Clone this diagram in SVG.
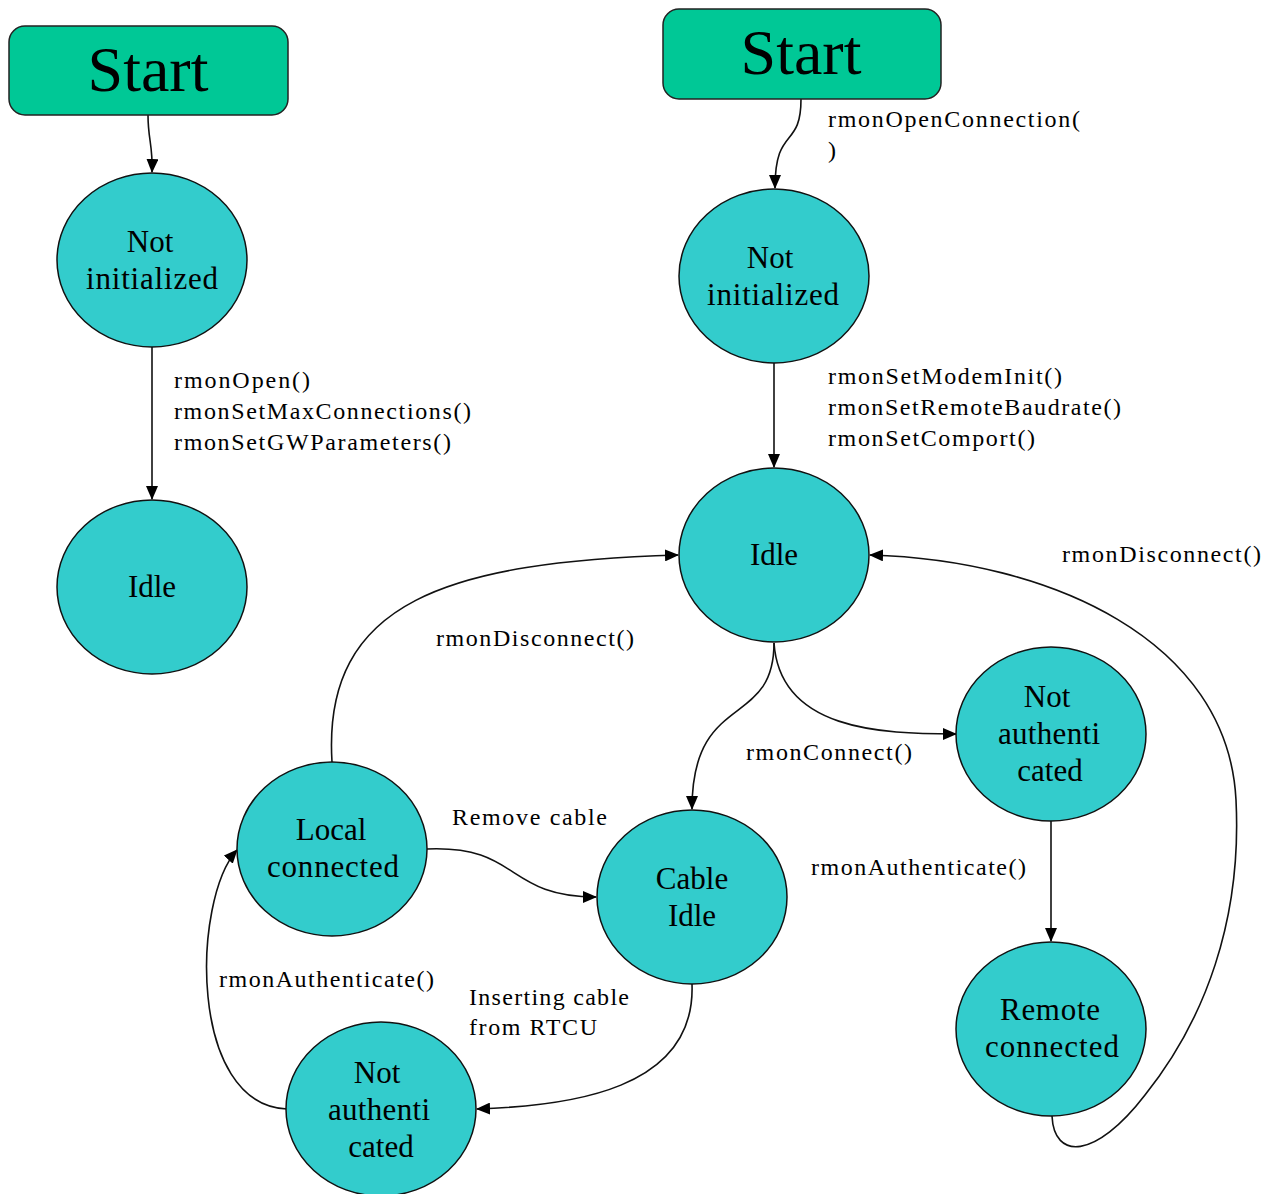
<svg xmlns="http://www.w3.org/2000/svg" width="1271" height="1194" viewBox="0 0 1271 1194">
<style>
.start{fill:#00C896;stroke:#222;stroke-width:1.5}
.st{font-family:"Liberation Serif",serif;font-size:64px;fill:#000;text-anchor:middle}
.state{fill:#33CCCC;stroke:#111;stroke-width:1.5}
.nt{font-family:"Liberation Serif",serif;font-size:31px;fill:#000;text-anchor:middle}
.lbl{font-family:"Liberation Serif",serif;font-size:24px;fill:#000}
.edge{fill:none;stroke:#111;stroke-width:1.6;marker-end:url(#ah)}
</style>
<defs>
<marker id="ah" markerWidth="14" markerHeight="12" refX="13" refY="6" orient="auto" markerUnits="userSpaceOnUse">
<path d="M0,0 L14,6 L0,12 Z" fill="#000"/>
</marker>
</defs>
<rect width="1271" height="1194" fill="#fff"/>

<g id="connectors">
<path class="edge" d="M148,115 C148,140 153,145 152,172"/>
<path class="edge" d="M152,347 L152,499"/>
<path class="edge" d="M801,99 C801,150 775,125 775,188"/>
<path class="edge" d="M774,363 L774,467"/>
<path class="edge" d="M774,643 C774,730 692,690 692,809"/>
<path class="edge" d="M774,643 C780,730 880,734 956,734"/>
<path class="edge" d="M1051,821 L1051,941"/>
<path class="edge" d="M1052,1116 C1054,1160 1095,1160 1145,1095 C1205,1020 1242,920 1236,800 C1228,640 1050,560 870,555"/>
<path class="edge" d="M332,762 C322,600 450,562 678,555"/>
<path class="edge" d="M427,849 C520,845 505,897 596,897"/>
<path class="edge" d="M692,984 C696,1090 570,1106 477,1109"/>
<path class="edge" d="M287,1109 C188,1105 192,900 237,850"/>
</g>

<g id="start1"><rect class="start" x="9" y="26" width="279" height="89" rx="16"/><text class="st" x="148" y="91">Start</text></g>
<g id="start2"><rect class="start" x="663" y="9" width="278" height="90" rx="16"/><text class="st" x="801" y="74">Start</text></g>

<g id="notinit1"><ellipse class="state" cx="152" cy="260" rx="95" ry="87"/><text class="nt" x="150" y="252">Not</text><text class="nt" x="152" y="289" textLength="132" lengthAdjust="spacing">initialized</text></g>
<g id="idle1"><ellipse class="state" cx="152" cy="587" rx="95" ry="87"/><text class="nt" x="152" y="597">Idle</text></g>

<g id="notinit2"><ellipse class="state" cx="774" cy="276" rx="95" ry="87"/><text class="nt" x="770" y="268">Not</text><text class="nt" x="773" y="305" textLength="132" lengthAdjust="spacing">initialized</text></g>
<g id="idle2"><ellipse class="state" cx="774" cy="555" rx="95" ry="87"/><text class="nt" x="774" y="565">Idle</text></g>
<g id="notauth1"><ellipse class="state" cx="1051" cy="734" rx="95" ry="87"/><text class="nt" x="1047" y="707">Not</text><text class="nt" x="1049" y="744" textLength="102" lengthAdjust="spacing">authenti</text><text class="nt" x="1050" y="781">cated</text></g>
<g id="remote"><ellipse class="state" cx="1051" cy="1029" rx="95" ry="87"/><text class="nt" x="1050" y="1020" textLength="100" lengthAdjust="spacing">Remote</text><text class="nt" x="1052" y="1057" textLength="134" lengthAdjust="spacing">connected</text></g>
<g id="cableidle"><ellipse class="state" cx="692" cy="897" rx="95" ry="87"/><text class="nt" x="692" y="889">Cable</text><text class="nt" x="692" y="926">Idle</text></g>
<g id="local"><ellipse class="state" cx="332" cy="849" rx="95" ry="87"/><text class="nt" x="331" y="840">Local</text><text class="nt" x="333" y="877" textLength="132" lengthAdjust="spacing">connected</text></g>
<g id="notauth2"><ellipse class="state" cx="381" cy="1109" rx="95" ry="87"/><text class="nt" x="377" y="1083">Not</text><text class="nt" x="379" y="1120" textLength="102" lengthAdjust="spacing">authenti</text><text class="nt" x="381" y="1157">cated</text></g>

<g id="labels">
<text class="lbl" x="828" y="127" textLength="252" lengthAdjust="spacing">rmonOpenConnection(</text>
<text class="lbl" x="828" y="158">)</text>
<text class="lbl" x="174" y="388" textLength="136" lengthAdjust="spacing">rmonOpen()</text>
<text class="lbl" x="174" y="419" textLength="297" lengthAdjust="spacing">rmonSetMaxConnections()</text>
<text class="lbl" x="174" y="450" textLength="277" lengthAdjust="spacing">rmonSetGWParameters()</text>
<text class="lbl" x="828" y="384" textLength="234" lengthAdjust="spacing">rmonSetModemInit()</text>
<text class="lbl" x="828" y="415" textLength="293" lengthAdjust="spacing">rmonSetRemoteBaudrate()</text>
<text class="lbl" x="828" y="446" textLength="207" lengthAdjust="spacing">rmonSetComport()</text>
<text class="lbl" x="1062" y="562" textLength="199" lengthAdjust="spacing">rmonDisconnect()</text>
<text class="lbl" x="436" y="646" textLength="198" lengthAdjust="spacing">rmonDisconnect()</text>
<text class="lbl" x="746" y="760" textLength="166" lengthAdjust="spacing">rmonConnect()</text>
<text class="lbl" x="452" y="825" textLength="155" lengthAdjust="spacing">Remove cable</text>
<text class="lbl" x="811" y="875" textLength="215" lengthAdjust="spacing">rmonAuthenticate()</text>
<text class="lbl" x="219" y="987" textLength="215" lengthAdjust="spacing">rmonAuthenticate()</text>
<text class="lbl" x="469" y="1005" textLength="160" lengthAdjust="spacing">Inserting cable</text>
<text class="lbl" x="469" y="1035" textLength="128" lengthAdjust="spacing">from RTCU</text>
</g>
</svg>
